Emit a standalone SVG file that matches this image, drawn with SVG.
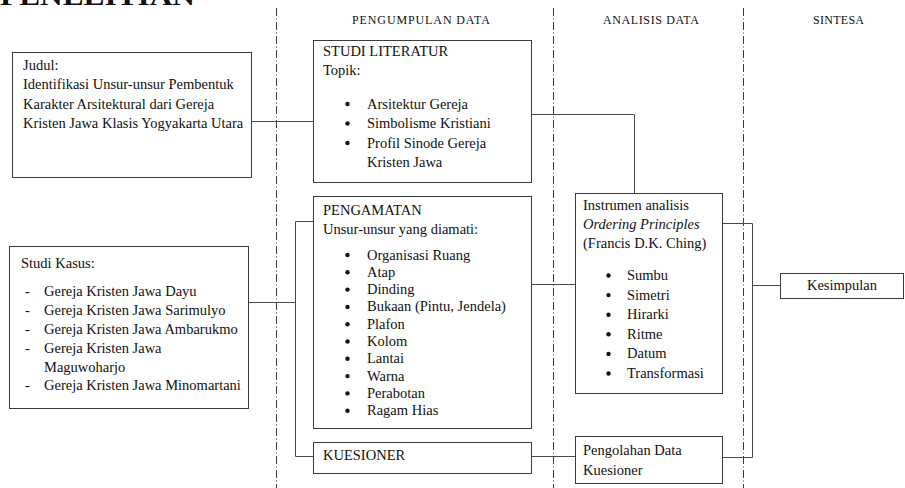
<svg xmlns="http://www.w3.org/2000/svg" width="905" height="488" viewBox="0 0 905 488">
<style>
  .box{fill:#fff;stroke:#3c3c3c;stroke-width:1}
  .ln{fill:none;stroke:#4a4a4a;stroke-width:1}
  .dd{fill:none;stroke:#3c3c3c;stroke-width:1;stroke-dasharray:8 2.5 1 2.5}
  text{font-family:"Liberation Serif","Times New Roman",serif;font-size:14.5px;fill:#111}
  .hd{font-size:12px}
  .it{font-style:italic}
  .title{font-size:28px;font-weight:bold}
  .bul{fill:#111}
</style>
<rect width="905" height="488" fill="#fff"/>
<text class="title" x="0" y="5" textLength="195" lengthAdjust="spacingAndGlyphs">PENELITIAN</text>

<g id="lanes">
  <line class="dd" x1="276.5" y1="8" x2="276.5" y2="488"/>
  <line class="dd" x1="553.5" y1="8" x2="553.5" y2="488"/>
  <line class="dd" x1="743.5" y1="8" x2="743.5" y2="488"/>
  <text class="hd" x="352" y="24" textLength="138" lengthAdjust="spacing">PENGUMPULAN  DATA</text>
  <text class="hd" x="603" y="24" textLength="96" lengthAdjust="spacing">ANALISIS DATA</text>
  <text class="hd" x="813" y="24" textLength="51" lengthAdjust="spacing">SINTESA</text>
</g>

<g id="connectors">
  <line class="ln" x1="251" y1="121.5" x2="313" y2="121.5"/>
  <polyline class="ln" points="531,114.5 634.5,114.5 634.5,193"/>
  <line class="ln" x1="248" y1="302.5" x2="295.5" y2="302.5"/>
  <polyline class="ln" points="313,221.5 295.5,221.5 295.5,456.5 313,456.5"/>
  <line class="ln" x1="531" y1="284.5" x2="575" y2="284.5"/>
  <line class="ln" x1="531" y1="456.5" x2="575" y2="456.5"/>
  <polyline class="ln" points="722,223.5 752.5,223.5 752.5,457.5 722,457.5"/>
  <line class="ln" x1="752.5" y1="285.5" x2="780" y2="285.5"/>
</g>

<g id="judul">
  <rect class="box" x="12.5" y="52.5" width="239" height="125"/>
  <text x="23" y="69.5">Judul:</text>
  <text x="23" y="89">Identifikasi Unsur-unsur Pembentuk</text>
  <text x="23" y="108.5">Karakter Arsitektural dari  Gereja</text>
  <text x="23" y="128">Kristen Jawa Klasis Yogyakarta Utara</text>
</g>

<g id="studi-kasus">
  <rect class="box" x="9.5" y="246.5" width="239" height="162"/>
  <text x="21" y="267.5">Studi Kasus:</text>
  <text x="25" y="295.5">-</text><text x="44" y="295.5">Gereja Kristen Jawa Dayu</text>
  <text x="25" y="314.5">-</text><text x="44" y="314.5">Gereja Kristen Jawa Sarimulyo</text>
  <text x="25" y="333.5">-</text><text x="44" y="333.5">Gereja Kristen Jawa Ambarukmo</text>
  <text x="25" y="352.5">-</text><text x="44" y="352.5">Gereja Kristen Jawa</text>
  <text x="44" y="371.5">Maguwoharjo</text>
  <text x="25" y="390">-</text><text x="44" y="390">Gereja Kristen Jawa Minomartani</text>
</g>

<g id="studi-literatur">
  <rect class="box" x="313.5" y="40.5" width="218" height="142"/>
  <text x="323" y="56">STUDI LITERATUR</text>
  <text x="323" y="74.5">Topik:</text>
  <circle class="bul" cx="347.5" cy="104" r="2.2"/><text x="367" y="108.5">Arsitektur Gereja</text>
  <circle class="bul" cx="347.5" cy="123.5" r="2.2"/><text x="367" y="128">Simbolisme Kristiani</text>
  <circle class="bul" cx="347.5" cy="143" r="2.2"/><text x="367" y="147.5">Profil Sinode Gereja</text>
  <text x="367" y="167">Kristen Jawa</text>
</g>

<g id="pengamatan">
  <rect class="box" x="313.5" y="196.5" width="218" height="232"/>
  <text x="323" y="215">PENGAMATAN</text>
  <text x="323" y="234">Unsur-unsur yang diamati:</text>
  <circle class="bul" cx="347.5" cy="255" r="2.2"/><text x="367" y="259.5">Organisasi Ruang</text>
  <circle class="bul" cx="347.5" cy="272.3" r="2.2"/><text x="367" y="276.8">Atap</text>
  <circle class="bul" cx="347.5" cy="289.6" r="2.2"/><text x="367" y="294.1">Dinding</text>
  <circle class="bul" cx="347.5" cy="306.9" r="2.2"/><text x="367" y="311.4">Bukaan (Pintu, Jendela)</text>
  <circle class="bul" cx="347.5" cy="324.2" r="2.2"/><text x="367" y="328.7">Plafon</text>
  <circle class="bul" cx="347.5" cy="341.5" r="2.2"/><text x="367" y="346">Kolom</text>
  <circle class="bul" cx="347.5" cy="358.8" r="2.2"/><text x="367" y="363.3">Lantai</text>
  <circle class="bul" cx="347.5" cy="376.1" r="2.2"/><text x="367" y="380.6">Warna</text>
  <circle class="bul" cx="347.5" cy="393.4" r="2.2"/><text x="367" y="397.9">Perabotan</text>
  <circle class="bul" cx="347.5" cy="410.7" r="2.2"/><text x="367" y="415.2">Ragam Hias</text>
</g>

<g id="kuesioner">
  <rect class="box" x="313.5" y="442.5" width="218" height="31"/>
  <text x="323" y="459.5">KUESIONER</text>
</g>

<g id="instrumen">
  <rect class="box" x="575.5" y="193.5" width="147" height="200"/>
  <text x="583" y="209.5">Instrumen analisis</text>
  <text class="it" x="583" y="229">Ordering Principles</text>
  <text x="583" y="248">(Francis D.K. Ching)</text>
  <circle class="bul" cx="608.5" cy="275.5" r="2.2"/><text x="627" y="280">Sumbu</text>
  <circle class="bul" cx="608.5" cy="295.1" r="2.2"/><text x="627" y="299.6">Simetri</text>
  <circle class="bul" cx="608.5" cy="314.7" r="2.2"/><text x="627" y="319.2">Hirarki</text>
  <circle class="bul" cx="608.5" cy="334.3" r="2.2"/><text x="627" y="338.8">Ritme</text>
  <circle class="bul" cx="608.5" cy="353.9" r="2.2"/><text x="627" y="358.4">Datum</text>
  <circle class="bul" cx="608.5" cy="373.5" r="2.2"/><text x="627" y="378">Transformasi</text>
</g>

<g id="pengolahan">
  <rect class="box" x="575.5" y="436.5" width="147" height="47"/>
  <text x="583" y="455">Pengolahan Data</text>
  <text x="583" y="475">Kuesioner</text>
</g>

<g id="kesimpulan">
  <rect class="box" x="780.5" y="273.5" width="123" height="25"/>
  <text x="842" y="290" text-anchor="middle">Kesimpulan</text>
</g>
</svg>
